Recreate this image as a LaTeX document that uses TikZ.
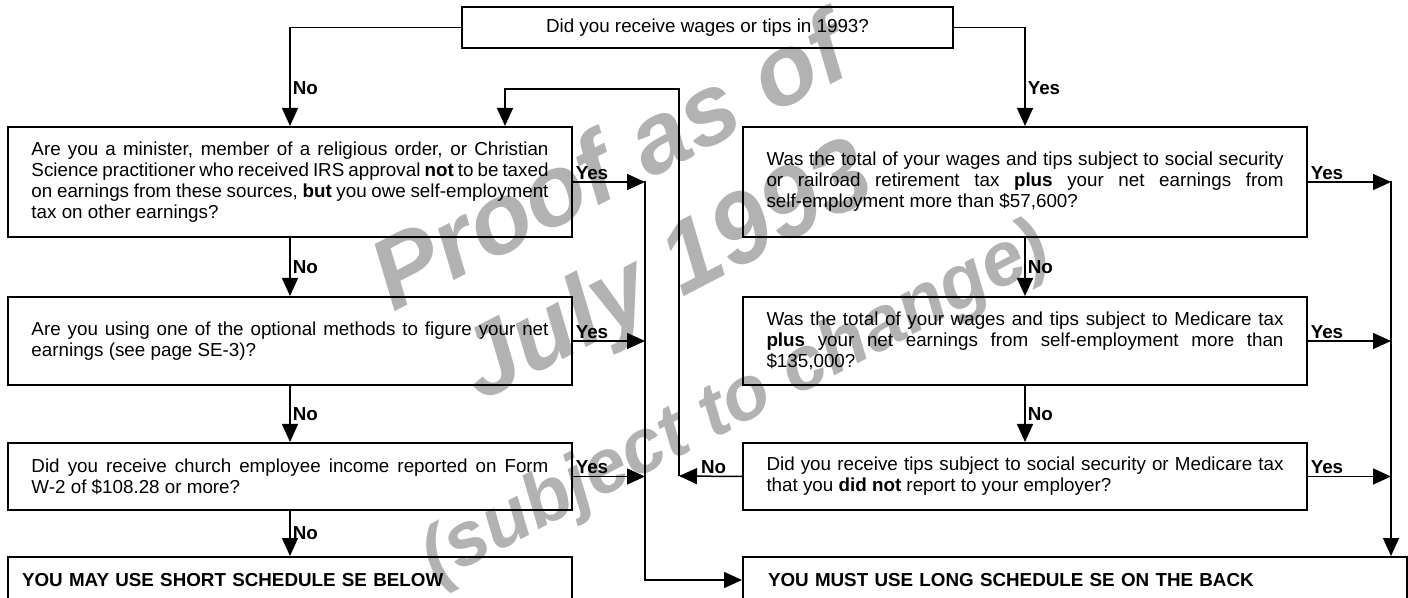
\documentclass[tikz,border=0pt]{standalone}
\usepackage{fontspec}
\setmainfont{Liberation Sans}
\usetikzlibrary{arrows.meta}

\begin{document}
\begin{tikzpicture}[x=0.5pt, y=-0.5pt, font=\fontsize{9.4}{10.5}\selectfont,
    qbox/.style = {draw, line width=1pt, anchor=north west, text width=258.5pt, inner xsep=11.75pt, inner ysep=0pt, align=justify},
    endbox/.style = {draw, line width=1pt, anchor=north west, minimum height=23pt, inner ysep=0pt, align=left, font=\fontsize{9.4}{10.5}\selectfont\bfseries},
    arr/.style = {line width=0.75pt, -{Triangle[length=9pt,width=8pt]}},
    lbl/.style = {font=\fontsize{9.4}{10.5}\selectfont\bfseries, inner sep=1pt},
    wmark/.style = {black!30, align=center, font=\fontsize{50}{60}\selectfont\bfseries\itshape}]
    \useasboundingbox (0,0) rectangle (1408,598);
    \clip (0,0) rectangle (1408,598);

    % watermark behind the chart
    \node[wmark, rotate=27.5] (proof) at (672,282) {Proof as of\\July 1993\\[10pt]{\fontsize{38}{46}\selectfont (subject to change)}};

    \node[draw, line width=1pt, minimum width=245.5pt, minimum height=20.5pt] (wages) at (707.5,27.5) {Did you receive wages or tips in 1993?};

    % left column
    \node[qbox, minimum height=55pt] (minister) at (7,126) {Are you a minister, member of a religious order, or Christian\linebreak Science practitioner who received IRS approval \textbf{not} to be taxed\linebreak on earnings from these sources, \textbf{but} you owe self-employment\linebreak tax on other earnings?};
    \node[qbox, minimum height=44pt] (optional) at (7,296) {Are you using one of the optional methods to figure your net\linebreak earnings (see page SE-3)?};
    \node[qbox, minimum height=33.5pt] (church) at (7,442) {Did you receive church employee income reported on Form\linebreak W-2 of \$108.28 or more?};
    \node[endbox, minimum width=282pt, text width=268pt, inner xsep=7pt] (short) at (7,556) {YOU MAY USE SHORT SCHEDULE SE BELOW};

    % right column
    \node[qbox, minimum height=55pt] (social) at (742,126) {Was the total of your wages and tips subject to social security\linebreak or railroad retirement tax \textbf{plus} your net earnings from\linebreak self-employment more than \$57,600?};
    \node[qbox, minimum height=44pt] (medicare) at (742,296) {Was the total of your wages and tips subject to Medicare tax\linebreak \textbf{plus} your net earnings from self-employment more than\linebreak \$135,000?};
    \node[qbox, minimum height=33.5pt] (tips) at (742,442) {Did you receive tips subject to social security or Medicare tax\linebreak that you \textbf{did not} report to your employer?};
    \node[endbox, minimum width=332pt, text width=307pt, inner xsep=12.5pt] (long) at (742,556) {YOU MUST USE LONG SCHEDULE SE ON THE BACK};

    \coordinate (ljoin) at (645,181);
    \coordinate (rjoin) at (1391,181);
    \coordinate (loopbot) at (679,476);
    \coordinate (looptop) at (679,89);
    \coordinate (loopx) at (505,0);

    \draw[arr] (wages.west) -| node[lbl, right, pos=0.81] {No} (minister.north);
    \draw[arr] (wages.east) -| node[lbl, right, pos=0.81] {Yes} (social.north);

    \draw[arr] (minister) -- node[lbl, right] {No} (optional);
    \draw[arr] (optional) -- node[lbl, right] {No} (church);
    \draw[arr] (church) -- node[lbl, right] {No} (short);
    \draw[arr] (social) -- node[lbl, right] {No} (medicare);
    \draw[arr] (medicare) -- node[lbl, right] {No} (tips);

    \draw[arr] (minister.east) -- node[lbl, above right, pos=0] {Yes} (minister.east -| ljoin);
    \draw[arr] (optional.east) -- node[lbl, above right, pos=0] {Yes} (optional.east -| ljoin);
    \draw[arr] (church.east) -- node[lbl, above right, pos=0] {Yes} (church.east -| ljoin);
    \draw[arr] (ljoin) |- (long.west);

    \draw[arr] (social.east) -- node[lbl, above right, pos=0] {Yes} (social.east -| rjoin);
    \draw[arr] (medicare.east) -- node[lbl, above right, pos=0] {Yes} (medicare.east -| rjoin);
    \draw[arr] (tips.east) -- node[lbl, above right, pos=0] {Yes} (tips.east -| rjoin);
    \draw[arr] (rjoin) -- (rjoin |- long.north);

    % back to the first question
    \draw[arr] (tips.west) -- node[lbl, above, pos=0.45] {No} (loopbot);
    \draw[arr] (loopbot) -- (looptop) -| (minister.north -| loopx);
\end{tikzpicture}
\end{document}
